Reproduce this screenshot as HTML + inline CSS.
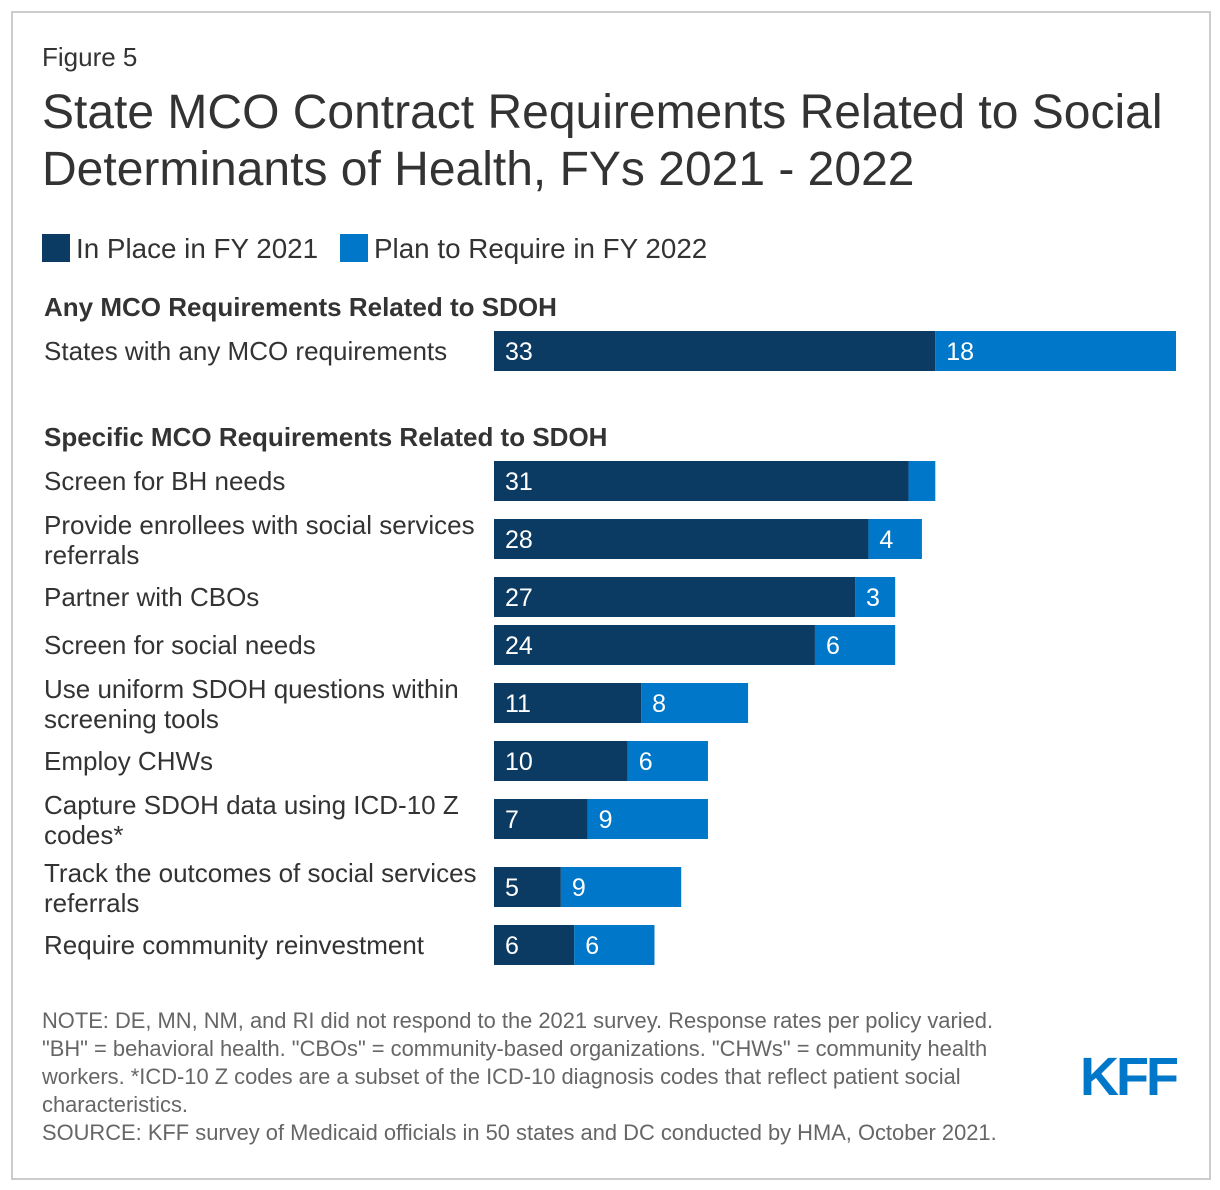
<!DOCTYPE html>
<html><head><meta charset="utf-8">
<style>
body{margin:0;background:#fff;font-family:"Liberation Sans",Arial,sans-serif;}
#wrap{position:relative;width:1220px;height:1190px;overflow:hidden;}
#frame{position:absolute;left:11px;top:11px;width:1196px;height:1165px;border:2px solid #ccc;box-sizing:content-box;}
.t{position:absolute;color:#333;white-space:nowrap;}
</style></head><body>
<div id="wrap">
<div id="frame"></div>
<div class="t" style="left:42px;top:42px;font-size:26px;">Figure 5</div>
<div class="t" style="left:42px;top:84px;font-size:48px;line-height:57px;color:#333;">State MCO Contract Requirements Related to Social<br>Determinants of Health, FYs 2021 - 2022</div>
<svg id="chart" width="1220" height="1190" style="position:absolute;left:0;top:0"></svg>
<div class="t" style="left:42px;top:1007px;font-size:21.9px;line-height:28px;color:#666;">NOTE: DE, MN, NM, and RI did not respond to the 2021 survey. Response rates per policy varied.<br>"BH" = behavioral health. "CBOs" = community-based organizations. "CHWs" = community health<br>workers. *ICD-10 Z codes are a subset of the ICD-10 diagnosis codes that reflect patient social<br>characteristics.<br>SOURCE: KFF survey of Medicaid officials in 50 states and DC conducted by HMA, October 2021.</div>
<div class="t" style="left:1080px;top:1046px;font-size:54px;font-weight:bold;color:#0077c8;letter-spacing:-3px;">KFF</div>
</div>
<script>
const categories=["States with any MCO requirements","Screen for BH needs","Provide enrollees with social services|referrals","Partner with CBOs","Screen for social needs","Use uniform SDOH questions within|screening tools","Employ CHWs","Capture SDOH data using ICD-10 Z|codes*","Track the outcomes of social services|referrals","Require community reinvestment"];
const inPlace=[33,31,28,27,24,11,10,7,5,6];
const planned=[18,2,4,3,6,8,6,9,9,6];
const seriesNames=["In Place in FY 2021","Plan to Require in FY 2022"];
const colors=["#0b3a63","#0077c8"];
const rowY=[351,481,539,597,645,703,761,819,887,945];
const x0=494, unit=682/51, barH=40;
const xs=v=>x0+v*unit;
const svg=document.getElementById('chart');
const NS="http://www.w3.org/2000/svg";
function txt(x,y,s,o){const t=document.createElementNS(NS,'text');t.setAttribute('x',x);t.setAttribute('y',y);t.textContent=s;
t.setAttribute('font-family','"Liberation Sans",Arial,sans-serif');t.setAttribute('font-size',o.size||22);t.setAttribute('fill',o.fill||'#333');if(o.bold)t.setAttribute('font-weight','bold');svg.appendChild(t);return t;}
const legendX=[42,340];
seriesNames.forEach((n,i)=>{
const lx=legendX[i];
const r=document.createElementNS(NS,'rect');r.setAttribute('x',lx);r.setAttribute('y',234);r.setAttribute('width',28);r.setAttribute('height',28);r.setAttribute('fill',colors[i]);


svg.appendChild(r);
const t=txt(lx+34,258,n,{size:27.8});


});
const h1=txt(44,316,"Any MCO Requirements Related to SDOH",{bold:true,size:26});


const h2=txt(44,446,"Specific MCO Requirements Related to SDOH",{bold:true,size:26});


categories.forEach((c,i)=>{
const cy=rowY[i];const lines=c.split('|');
lines.forEach((l,j)=>{
const t=txt(44,cy+9+(lines.length>1?(j*30-14):0),l,{size:26});


});
const vals=[inPlace[i],planned[i]];let acc=0;
vals.forEach((v,k)=>{
const r=document.createElementNS(NS,'rect');
r.setAttribute('x',xs(acc));r.setAttribute('y',cy-barH/2);r.setAttribute('width',xs(acc+v)-xs(acc));r.setAttribute('height',barH);r.setAttribute('fill',colors[k]);


svg.appendChild(r);
if(v>=3){const t=txt(xs(acc)+11,cy+9,String(v),{size:25,fill:'#fff'});

}
acc+=v;
});
});
</script>
</body></html>
